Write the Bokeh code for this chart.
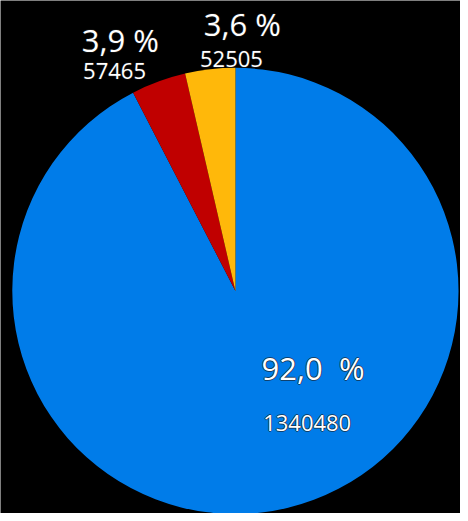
import math
from bokeh.plotting import figure
from bokeh.models import Range1d, ColumnDataSource
from bokeh.core.properties import value
from bokeh.embed import file_html
from bokeh.resources import INLINE

# ---- data ----
categories = ["A", "B", "C"]
counts = [1340480, 57465, 52505]
pct_labels = ["92,0 \u00a0%", "3,9 %", "3,6 %"]
count_labels = ["1340480", "57465", "52505"]
colors = ["#007CE9", "#C00000", "#FFB80A"]

# ---- layout (reference-pixel coordinates: x right, y up) ----
W, H = 460, 513
RW, RH = 468, 521
cx, cy, r = 239, 226, 227
pct_pos = [(318, 148), (122, 481), (246, 497)]
cnt_pos = [(312, 92), (116, 449), (235, 462)]

total = float(sum(counts))
starts, ends = [], []
a = math.pi / 2
for c in counts:
    ang = 2 * math.pi * c / total
    starts.append(a)
    ends.append(a - ang)
    a -= ang

src = ColumnDataSource(dict(cat=categories, start=starts, end=ends, color=colors))

p = figure(width=W, height=H, output_backend="svg", toolbar_location=None,
           x_range=Range1d(0, RW), y_range=Range1d(0, RH),
           min_border=0, background_fill_color="#000000",
           border_fill_color="#000000", outline_line_color=None)
p.axis.visible = False
p.grid.visible = False

p.wedge(x=cx, y=cy, radius=r, start_angle="start", end_angle="end",
        direction="clock", fill_color="color", line_color=None, source=src)

# labels with dark halo
for lbls, pos, size in ((pct_labels, pct_pos, "31px"), (count_labels, cnt_pos, "22px")):
    xs = [q[0] for q in pos]
    ys = [q[1] for q in pos]
    for dx, dy in ((-1, 0), (1, 0), (0, -1), (0, 1)):
        p.text(x=[x + dx for x in xs], y=[y + dy for y in ys], text=lbls,
               text_font=value("Open Sans"), text_font_size=size,
               text_color="#1a1a1a", text_alpha=0.6,
               text_align="center", text_baseline="middle")
    p.text(x=xs, y=ys, text=lbls, text_font=value("Open Sans"),
           text_font_size=size, text_color="#FFFFFF",
           text_align="center", text_baseline="middle")

html = file_html(p, INLINE)
html = html.replace("<body>", '<body style="background-color:#000000;">', 1)
open("out.html", "w").write(html)
